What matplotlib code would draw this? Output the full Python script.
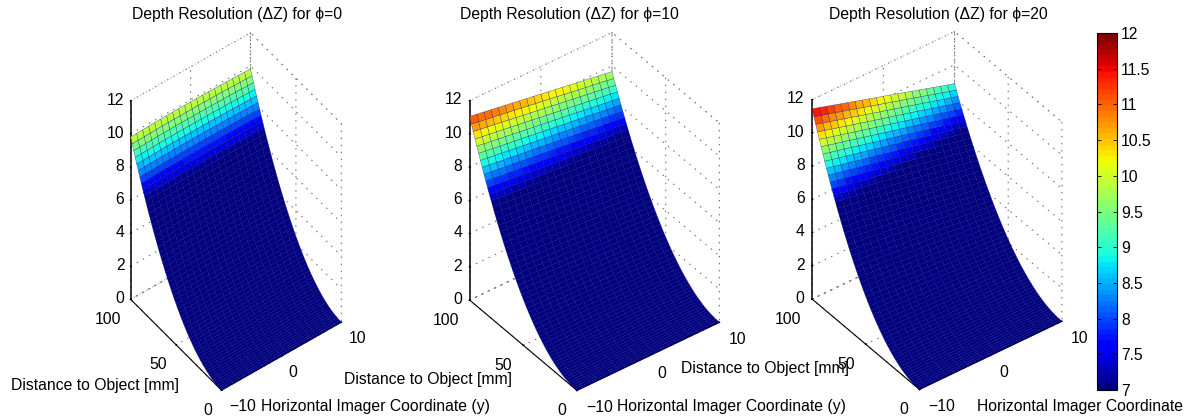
import numpy as np
import matplotlib
matplotlib.use("Agg")
import matplotlib.pyplot as plt
from matplotlib import cm
from matplotlib.colors import Normalize

plt.rcParams['font.family'] = ['Liberation Sans', 'DejaVu Sans']

W, H = 1189, 419
y_coord = [-10, -9, -8, -7, -6, -5, -4, -3, -2, -1, 0, 1, 2, 3, 4, 5, 6, 7, 8, 9, 10]
distance = [0, 1.67, 3.33, 5, 6.67, 8.33, 10, 11.67, 13.33, 15, 16.67, 18.33, 20, 21.67, 23.33,
            25, 26.67, 28.33, 30, 31.67, 33.33, 35, 36.67, 38.33, 40, 41.67, 43.33, 45, 46.67,
            48.33, 50, 51.67, 53.33, 55, 56.67, 58.33, 60, 61.67, 63.33, 65, 66.67, 68.33, 70,
            71.67, 73.33, 75, 76.67, 78.33, 80, 81.67, 83.33, 85, 86.67, 88.33, 90, 91.67,
            93.33, 95, 96.67, 98.33, 100]
profile = [0, .0003, .0011, .0025, .0044, .0069, .010, .0136, .0178, .0225, .0278, .0336, .040,
           .0469, .0544, .0625, .0711, .0803, .090, .1003, .1111, .1225, .1344, .1469, .160,
           .1736, .1878, .2025, .2178, .2336, .25, .2669, .2844, .3025, .3211, .3403, .36,
           .3803, .4011, .4225, .4444, .4669, .49, .5136, .5378, .5625, .5878, .6136, .64,
           .6669, .6944, .7225, .7511, .7803, .81, .8403, .8711, .9025, .9344, .9669, 1]
edge_phi0 = [9.82, 9.83, 9.84, 9.85, 9.86, 9.87, 9.87, 9.88, 9.88, 9.88, 9.88,
             9.88, 9.88, 9.88, 9.87, 9.87, 9.86, 9.85, 9.84, 9.83, 9.82]
edge_phi10 = [11.05, 10.98, 10.91, 10.84, 10.77, 10.70, 10.63, 10.56, 10.49, 10.42, 10.35,
              10.28, 10.21, 10.14, 10.07, 10.00, 9.93, 9.86, 9.79, 9.72, 9.65]
edge_phi20 = [11.45, 11.32, 11.19, 11.06, 10.93, 10.80, 10.67, 10.54, 10.41, 10.28, 10.16,
              10.03, 9.90, 9.77, 9.64, 9.51, 9.38, 9.25, 9.12, 8.99, 8.87]
titles = ['Depth Resolution (\u0394Z) for \u03d5=0',
          'Depth Resolution (\u0394Z) for \u03d5=10',
          'Depth Resolution (\u0394Z) for \u03d5=20']
x_labels = ['Horizontal Imager Coordinate (y)', 'Horizontal Imager Coordinate (y)',
            'Horizontal Imager Coordinate']
cbar_ticks = [7, 7.5, 8, 8.5, 9, 9.5, 10, 10.5, 11, 11.5, 12]
z_ticks = [0, 2, 4, 6, 8, 10, 12]
x_ticks = [-10, 0, 10]
d_ticks = [0, 50, 100]

panels = [
    dict(edge=edge_phi0, elev=48.9, azim=-127.0, aspect=(150, 151, 302), span=358.7,
         centre=(236.0, 211.5), title_x=237, xlab_x=261, dlab_x=11, dlab_y=385),
    dict(edge=edge_phi10, elev=39.4, azim=-127.0, aspect=(178, 178, 257.6), span=350.3,
         centre=(594.5, 211.5), title_x=569, xlab_x=617, dlab_x=344, dlab_y=379),
    dict(edge=edge_phi20, elev=39.4, azim=-127.0, aspect=(178, 178, 257.6), span=350.3,
         centre=(937.0, 210.5), title_x=938, xlab_x=977, dlab_x=681, dlab_y=368),
]

fig = plt.figure(figsize=(W / 100, H / 100), dpi=100)
norm = Normalize(7, 12)
jet = matplotlib.colormaps['jet'].resampled(64)
FS = 11.3
DOTS = (0, (1.3, 5))

for i, p in enumerate(panels):
    s = p['span']
    cx, cy = p['centre']
    f = 0.095 / 0.185
    ax = fig.add_axes([(cx - f * s) / W, 1 - (cy + f * s) / H, s / W, s / H],
                      projection='3d', proj_type='ortho')
    ax.patch.set_visible(False)
    ax.view_init(elev=p['elev'], azim=p['azim'])
    ax.set_box_aspect(p['aspect'])
    X, D = np.meshgrid(y_coord, distance)
    Z = np.outer(profile, p['edge'])
    # each cell takes the colour of its far edge, as in the reference's top row
    colors = jet(norm(np.vstack([Z[1:], Z[-1:]])))
    ax.plot_surface(X, D, Z, facecolors=colors, rstride=1, cstride=1, shade=False,
                    edgecolor=(0, 0, 0.45, 0.65), linewidth=0.3, antialiased=True)
    ax.set_xlim(-10, 10)
    ax.set_ylim(0, 100)
    ax.set_zlim(0, 12)
    ax.set_xticks(x_ticks)
    ax.set_yticks(d_ticks)
    ax.set_zticks(z_ticks)
    ax.set_xticklabels(['\u221210', '0', '10'])
    ax.tick_params(labelsize=FS, length=3, width=0.6)
    ax.tick_params(axis='x', pad=3)
    ax.tick_params(axis='y', pad=2)
    ax.tick_params(axis='z', pad=-4)
    for lbl in ax.get_xticklabels():
        lbl.set(va='bottom', ha='left')
    for lbl in ax.get_yticklabels():
        lbl.set(va='center', ha='right')
    for lbl in ax.get_zticklabels():
        lbl.set(va='center', ha='right')
    for axis in (ax.xaxis, ax.yaxis, ax.zaxis):
        axis.pane.set_facecolor((1, 1, 1, 0))
        axis.pane.set_edgecolor('#707070')
        axis.pane.set_linestyle(DOTS)
        axis.pane.set_linewidth(0.8)
        axis.line.set_color('k')
        axis.line.set_linewidth(0.8)
        axis._axinfo['grid'].update(color='#707070', linestyle=DOTS, linewidth=0.8)
        axis._axinfo['tick'].update(inward_factor=0.03, outward_factor=0.06)
    ax.zaxis.line.set_linewidth(1.1)
    ax.zaxis.set_ticks_position('upper')
    ax.text2D(p['title_x'] / W, 1 - 14 / H, titles[i], transform=fig.transFigure,
              ha='center', va='center', fontsize=FS)
    ax.text2D(p['xlab_x'] / W, 1 - 406 / H, x_labels[i], transform=fig.transFigure,
              ha='left', va='center', fontsize=FS)
    ax.text2D(p['dlab_x'] / W, 1 - p['dlab_y'] / H, 'Distance to Object [mm]', transform=fig.transFigure,
              ha='left', va='center', fontsize=FS)

cax = fig.add_axes([1097 / W, 1 - 390 / H, 20 / W, 357 / H])
sm = cm.ScalarMappable(norm=norm, cmap=jet)
cb = fig.colorbar(sm, cax=cax, ticks=cbar_ticks)
cb.ax.set_yticklabels(['%g' % t for t in cbar_ticks])
cb.ax.tick_params(labelsize=FS, direction='in', length=3, width=0.6, left=True, right=True, pad=3)
cb.outline.set_linewidth(0.8)

fig.savefig('out.png', dpi=100)
